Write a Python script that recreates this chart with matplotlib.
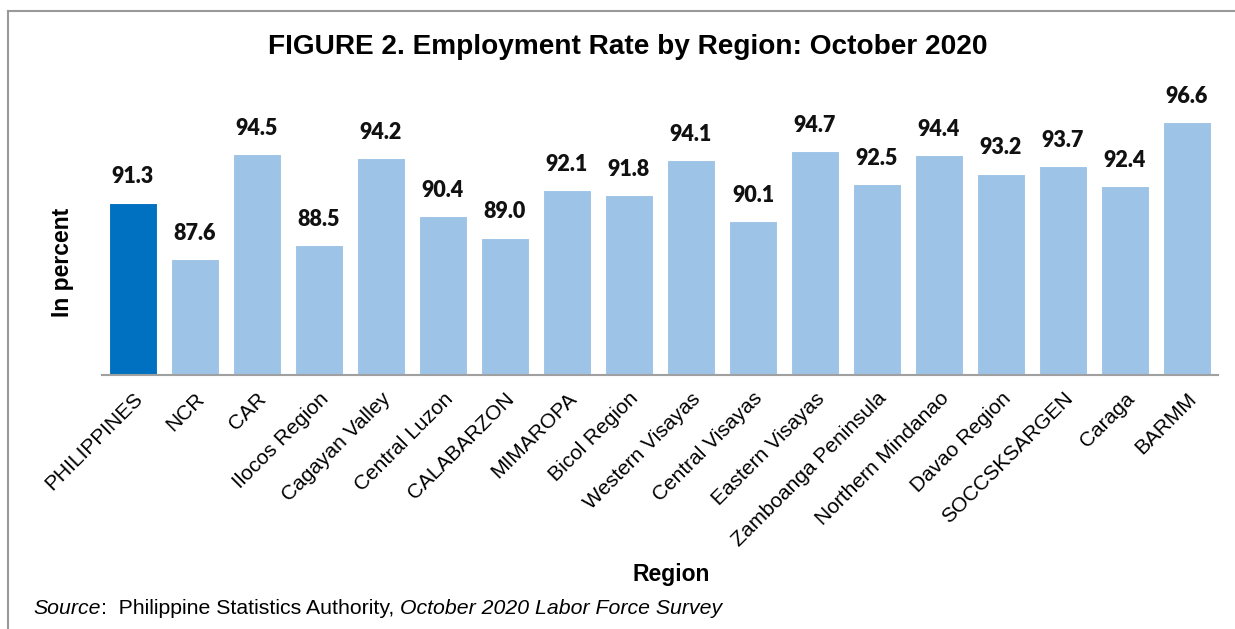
"""Employment rate by region, October 2020 (PSA Labor Force Survey)."""

import matplotlib

matplotlib.use("Agg")
from matplotlib import pyplot as plt
from matplotlib.lines import Line2D

REGIONS = [
    "PHILIPPINES",
    "NCR",
    "CAR",
    "Ilocos Region",
    "Cagayan Valley",
    "Central Luzon",
    "CALABARZON",
    "MIMAROPA",
    "Bicol Region",
    "Western Visayas",
    "Central Visayas",
    "Eastern Visayas",
    "Zamboanga Peninsula",
    "Northern Mindanao",
    "Davao Region",
    "SOCCSKSARGEN",
    "Caraga",
    "BARMM",
]
RATES = [
    91.3, 87.6, 94.5, 88.5, 94.2, 90.4, 89.0, 92.1, 91.8,
    94.1, 90.1, 94.7, 92.5, 94.4, 93.2, 93.7, 92.4, 96.6,
]

DARK = "#0070C0"
LIGHT = "#9DC3E6"
W, H = 1235, 629

fig = plt.figure(figsize=(W / 100, H / 100), dpi=100)
ax = fig.add_axes([102 / W, 1 - 375 / H, (1218 - 102) / W, (375 - 70) / H])

x = list(range(len(REGIONS)))
colors = [DARK] + [LIGHT] * (len(REGIONS) - 1)
ax.bar(x, RATES, width=0.77, color=colors, edgecolor="white", linewidth=0.8,
       bottom=0, zorder=2)
ax.set_xlim(-0.5, len(REGIONS) - 0.5)
ax.set_ylim(80, 100)

for xi, v in zip(x, RATES):
    ax.annotate(f"{v:.1f}", (xi, v), xytext=(0, 11), textcoords="offset points",
                ha="center", va="bottom", fontsize=15.5, fontweight="heavy",
                family="Lato", color="#111111")

for s in ["top", "right", "left"]:
    ax.spines[s].set_visible(False)
ax.spines["bottom"].set_color("#A0A0A0")
ax.spines["bottom"].set_linewidth(1.5)
ax.set_yticks([])
ax.set_xticks(x)
ax.set_xticklabels(REGIONS, rotation=45, ha="right", va="top",
                   rotation_mode="anchor", fontsize=15, family="Liberation Sans")
ax.tick_params(axis="x", length=0, pad=10)

fig.text(628 / W, 1 - 47 / H, "FIGURE 2. Employment Rate by Region: October 2020",
         ha="center", va="center", fontsize=20.2, fontweight="bold",
         family="Liberation Sans")
fig.text(671 / W, 1 - 575 / H, "Region", ha="center", va="center", fontsize=16.5,
         fontweight="bold", family="Liberation Sans")
fig.text(62 / W, 1 - 262 / H, "In percent", ha="center", va="center", rotation=90,
         fontsize=16.5, fontweight="bold", family="Liberation Sans")

# source line: mixed italic / regular pieces laid out left to right
src_parts = [
    ("Source", "italic"),
    (":  Philippine Statistics Authority, ", "normal"),
    ("October 2020 Labor Force Survey", "italic"),
]
fig.canvas.draw()
renderer = fig.canvas.get_renderer()
xpos = 33 / W
for txt, style in src_parts:
    t = fig.text(xpos, 1 - 609 / H, txt, ha="left", va="center", fontsize=15.3,
                 style=style, family="Liberation Sans")
    bb = t.get_window_extent(renderer)
    xpos += bb.width / W

# outer frame (right and bottom edges fall outside the picture)
fig.add_artist(Line2D([8 / W, 1], [1 - 11 / H, 1 - 11 / H], color="#999999", lw=1.5))
fig.add_artist(Line2D([8 / W, 8 / W], [0, 1 - 11 / H], color="#999999", lw=1.5))

fig.savefig("out.png", dpi=100)
